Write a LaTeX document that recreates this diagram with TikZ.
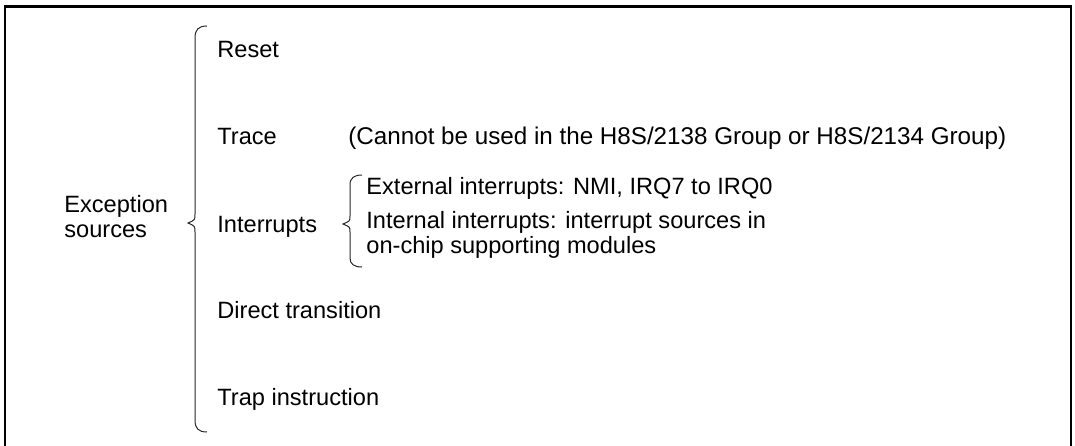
\documentclass[tikz,border=0pt]{standalone}
\usepackage{fontspec}
\setmainfont{Liberation Sans}
\usetikzlibrary{positioning}
\tikzset{
  lbl/.style={inner sep=0pt,anchor=base west,font=\fontsize{11.8}{12.5}\selectfont},
  brc/.style={line width=0.5pt,color=black!85}
}

\begin{document}
\begin{tikzpicture}[x=0.5pt,y=-0.5pt]
\useasboundingbox (0,0) rectangle (1075,445);

% frame, open at the bottom
\draw[line width=1.3pt] (5,460) -- (5,6.5) -- (1071,6.5) -- (1071,460);

% multi-line nodes sit on the baseline of their last line
\node[lbl,align=left] (exc) at (64,237) {Exception\\sources};

\node[lbl] (reset) at (217,57) {Reset};
\node[lbl] (trace) at (217,144) {Trace};
\node[lbl,font=\fontsize{12.1}{12.5}\selectfont] (note) at (348,144) {(Cannot be used in the H8S/2138 Group or H8S/2134 Group)};
\node[lbl] (intr) at (217,232) {Interrupts};
\node[lbl] (direct) at (217,318) {Direct transition};
\node[lbl] (trap) at (217,405) {Trap instruction};

\node[lbl] (ext) at (366,194) {External interrupts: NMI, IRQ7 to IRQ0};
\node[lbl,align=left] (int) at (366,253) {Internal interrupts: interrupt sources in\\on-chip supporting modules};

% big brace
\draw[brc] (207,26) .. controls (198,26) and (195,30) .. (195,38) -- (195,214)
  .. controls (195,220) .. (188,223) .. controls (195,226) .. (195,232) -- (195,420)
  .. controls (195,428) and (198,432) .. (207,432);

% small brace
\draw[brc] (362,175) .. controls (354,175) and (350,178) .. (350,185) -- (350,216)
  .. controls (350,221) .. (343,224) .. controls (350,227) .. (350,232) -- (350,258)
  .. controls (350,264) and (354,267) .. (362,267);

\end{tikzpicture}
\end{document}
